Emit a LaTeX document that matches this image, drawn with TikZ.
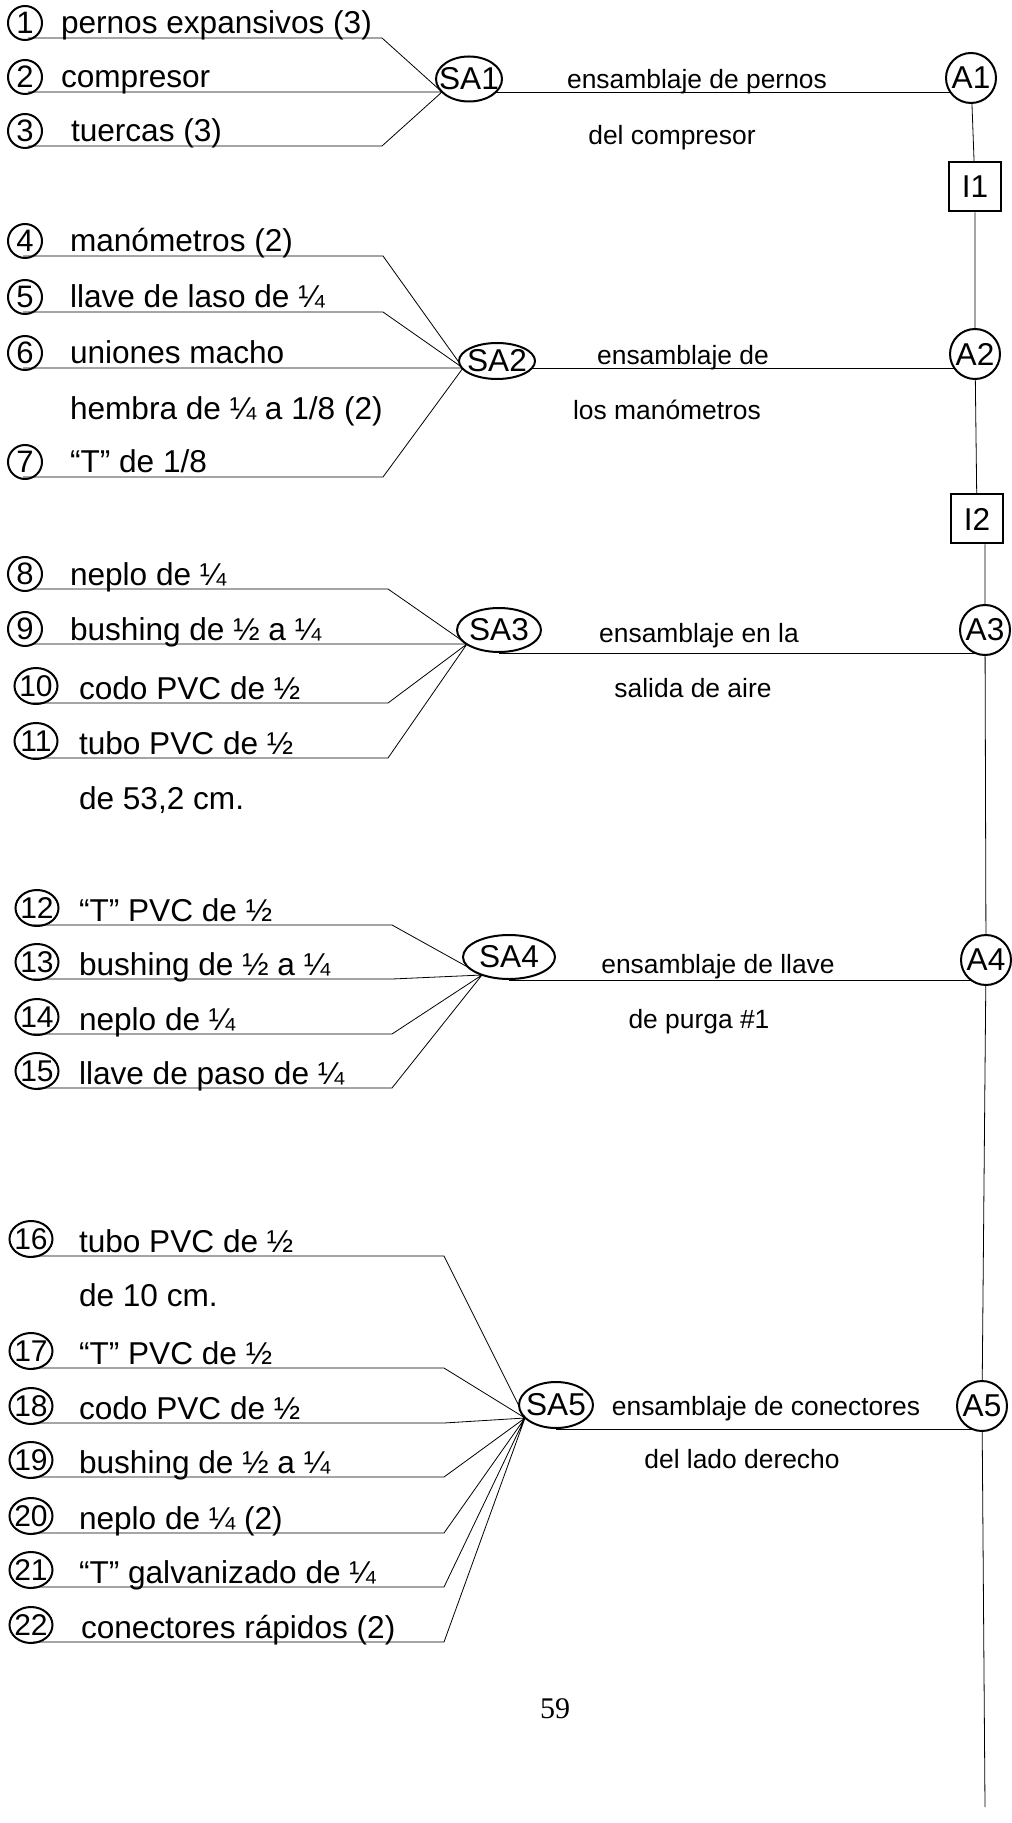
\documentclass[tikz,border=0pt]{standalone}
\usepackage{fontspec}
\setmainfont{Liberation Sans}
\newfontfamily\pagefont{Liberation Serif}
\usetikzlibrary{shapes.geometric,backgrounds}
\newcommand\partfont{\fontsize{15.8pt}{18pt}\selectfont}
\newcommand\descfont{\fontsize{13.2pt}{15pt}\selectfont}
\newcommand\numfont{\fontsize{15.5pt}{18pt}\selectfont}

\begin{document}
\begin{tikzpicture}[x=0.5pt, y=-0.5pt, line width=1pt,
    part/.style={anchor=base west, inner sep=0pt, font=\partfont},
    tight/.style={execute at begin node={\hbox to 0pt\bgroup\hss}, execute at end node={\hss\egroup}},
    num/.style={draw, ellipse, tight, inner sep=0pt, minimum width=17pt, minimum height=17pt, font=\numfont},
    numw/.style={num, minimum width=21.5pt, minimum height=18pt, font=\fontsize{15pt}{17pt}\selectfont},
    sub/.style={draw, ellipse, tight, fill=white, inner sep=0pt, font=\partfont},
    asm/.style={draw, circle, fill=white, inner sep=0pt, minimum size=25pt, font=\partfont},
    insp/.style={draw, fill=white, inner sep=0pt, minimum width=26pt, minimum height=24.5pt, font=\partfont},
    desc/.style={anchor=base, inner sep=0pt, font=\descfont}]
    \useasboundingbox (0,0) rectangle (1011,1823);

    % parts for SA1
    \node[num] (n1) at (25,23) {1};
    \node[part] (t1) at (60,34) {pernos expansivos (3)};
    \node[num] (n2) at (25,77) {2};
    \node[part] (t2) at (60,88) {compresor};
    \node[num] (n3) at (25,131) {3};
    \node[part] (t3) at (70,142) {tuercas (3)};
    \coordinate (p1) at (28,38);
    \coordinate (p2) at (28,92);
    \coordinate (p3) at (28,146);
    \coordinate (k1) at (382,0);
    \coordinate (j1) at (442,92);

    % parts for SA2
    \node[num] (n4) at (25,241) {4};
    \node[part] (t4) at (69,252) {manómetros (2)};
    \node[num] (n5) at (25,297) {5};
    \node[part] (t5) at (69,308) {llave de laso de ¼};
    \node[num] (n6) at (25,353) {6};
    \node[part] (t6) at (69,364) {uniones macho};
    \node[part] (t6b) at (69,420) {hembra de ¼ a 1/8 (2)};
    \node[num] (n7) at (25,462) {7};
    \node[part] (t7) at (69,473) {“T” de 1/8};
    \coordinate (p4) at (23,256);
    \coordinate (p5) at (23,312);
    \coordinate (p6) at (23,368);
    \coordinate (p7) at (23,477);
    \coordinate (k2) at (383,0);
    \coordinate (j2) at (463,368);

    % parts for SA3
    \node[num] (n8) at (25,574) {8};
    \node[part] (t8) at (69,585) {neplo de ¼};
    \node[num] (n9) at (25,629) {9};
    \node[part] (t9) at (69,640) {bushing de ½ a ¼};
    \node[numw] (n10) at (36,686) {10};
    \node[part] (t10) at (78,699) {codo PVC de ½};
    \node[numw] (n11) at (36,741) {11};
    \node[part] (t11) at (78,754) {tubo PVC de ½};
    \node[part] (t11b) at (78,809) {de 53,2 cm.};
    \coordinate (p8) at (33,589);
    \coordinate (p9) at (33,644);
    \coordinate (p10) at (33,703);
    \coordinate (p11) at (33,758);
    \coordinate (k3) at (388,0);
    \coordinate (j3) at (467,644);

    % parts for SA4
    \node[numw] (n12) at (37,908) {12};
    \node[part] (t12) at (78,921) {“T” PVC de ½};
    \node[numw] (n13) at (37,962) {13};
    \node[part] (t13) at (78,975) {bushing de ½ a ¼};
    \node[numw] (n14) at (37,1017) {14};
    \node[part] (t14) at (78,1030) {neplo de ¼};
    \node[numw] (n15) at (37,1071) {15};
    \node[part] (t15) at (78,1084) {llave de paso de ¼};
    \coordinate (p12) at (33,925);
    \coordinate (p13) at (33,979);
    \coordinate (p14) at (33,1034);
    \coordinate (p15) at (38,1088);
    \coordinate (k4) at (392,0);
    \coordinate (j4) at (482,975);

    % parts for SA5
    \node[numw] (n16) at (31,1239) {16};
    \node[part] (t16) at (78,1252) {tubo PVC de ½};
    \node[part] (t16b) at (78,1306) {de 10 cm.};
    \node[numw] (n17) at (31,1351) {17};
    \node[part] (t17) at (78,1364) {“T” PVC de ½};
    \node[numw] (n18) at (31,1406) {18};
    \node[part] (t18) at (78,1419) {codo PVC de ½};
    \node[numw] (n19) at (31,1460) {19};
    \node[part] (t19) at (78,1473) {bushing de ½ a ¼};
    \node[numw] (n20) at (31,1516) {20};
    \node[part] (t20) at (78,1529) {neplo de ¼ (2)};
    \node[numw] (n21) at (31,1570) {21};
    \node[part] (t21) at (78,1583) {“T” galvanizado de ¼};
    \node[numw] (n22) at (31,1625) {22};
    \node[part] (t22) at (80,1638) {conectores rápidos (2)};
    \coordinate (p16) at (33,1256);
    \coordinate (p17) at (33,1368);
    \coordinate (p18) at (33,1423);
    \coordinate (p19) at (33,1477);
    \coordinate (p20) at (33,1533);
    \coordinate (p21) at (33,1587);
    \coordinate (p22) at (33,1642);
    \coordinate (k5) at (444,0);
    \coordinate (j5) at (525,1418);

    % subassemblies
    \node[sub, minimum width=33pt, minimum height=22.5pt] (sa1) at (469,79) {SA1};
    \node[sub, minimum width=38pt, minimum height=18pt] (sa2) at (497,361) {SA2};
    \node[sub, minimum width=42pt, minimum height=22pt] (sa3) at (499,630) {SA3};
    \node[sub, minimum width=46pt, minimum height=22pt] (sa4) at (509,957) {SA4};
    \node[sub, minimum width=37pt, minimum height=23pt] (sa5) at (556,1405) {SA5};

    % assembly line
    \node[asm] (a1) at (971,78) {A1};
    \node[insp] (i1) at (975,187) {I1};
    \node[asm] (a2) at (975,354) {A2};
    \node[insp] (i2) at (977,519) {I2};
    \node[asm] (a3) at (985,630) {A3};
    \node[asm] (a4) at (986,960) {A4};
    \node[asm] (a5) at (982,1406) {A5};
    \coordinate (end) at (985,1807);

    \node[desc] (d1) at (697,89) {ensamblaje de pernos};
    \node[desc] (d1b) at (672,145) {del compresor};
    \node[desc] (d2) at (683,365) {ensamblaje de};
    \node[desc] (d2b) at (667,420) {los manómetros};
    \node[desc] (d3) at (699,642) {ensamblaje en la};
    \node[desc] (d3b) at (693,697) {salida de aire};
    \node[desc] (d4) at (718,973) {ensamblaje de llave};
    \node[desc] (d4b) at (699,1028) {de purga \#1};
    \node[desc] (d5) at (766,1415) {ensamblaje de conectores};
    \node[desc] (d5b) at (742,1468) {del lado derecho};

    \node[anchor=base, inner sep=0pt, font=\pagefont\fontsize{15pt}{18pt}\selectfont] (pg) at (555,1718) {59};

    % lines
    \scope[on background layer]
    \draw (p1) -- (p1 -| k1) -- (j1)
        (p2) -- (j1)
        (p3) -- (p3 -| k1) -- (j1);
    \draw (p4) -- (p4 -| k2) -- (j2)
        (p5) -- (p5 -| k2) -- (j2)
        (p6) -- (j2)
        (p7) -- (p7 -| k2) -- (j2);
    \draw (p8) -- (p8 -| k3) -- (j3)
        (p9) -- (j3)
        (p10) -- (p10 -| k3) -- (j3)
        (p11) -- (p11 -| k3) -- (j3);
    \draw (p12) -- (p12 -| k4) -- (j4)
        (p13) -- (p13 -| k4) -- (j4)
        (p14) -- (p14 -| k4) -- (j4)
        (p15) -- (p15 -| k4) -- (j4);
    \draw (p16) -- (p16 -| k5) -- (j5)
        (p17) -- (p17 -| k5) -- (j5)
        (p18) -- (p18 -| k5) -- (j5)
        (p19) -- (p19 -| k5) -- (j5)
        (p20) -- (p20 -| k5) -- (j5)
        (p21) -- (p21 -| k5) -- (j5)
        (p22) -- (p22 -| k5) -- (j5);
    \draw (j1) -- (j1 -| a1)
        (j2) -- (j2 -| a2)
        (sa3.south) -- (sa3.south -| a3)
        (sa4.south) -- (sa4.south -| a4)
        (sa5.south) -- (sa5.south -| a5);
    \draw (a1) -- (i1) -- (a2) -- (i2) -- (i2.south -| a3) -- (a3) -- (a4) -- (a5) -- (end);
    \endscope
\end{tikzpicture}
\end{document}
